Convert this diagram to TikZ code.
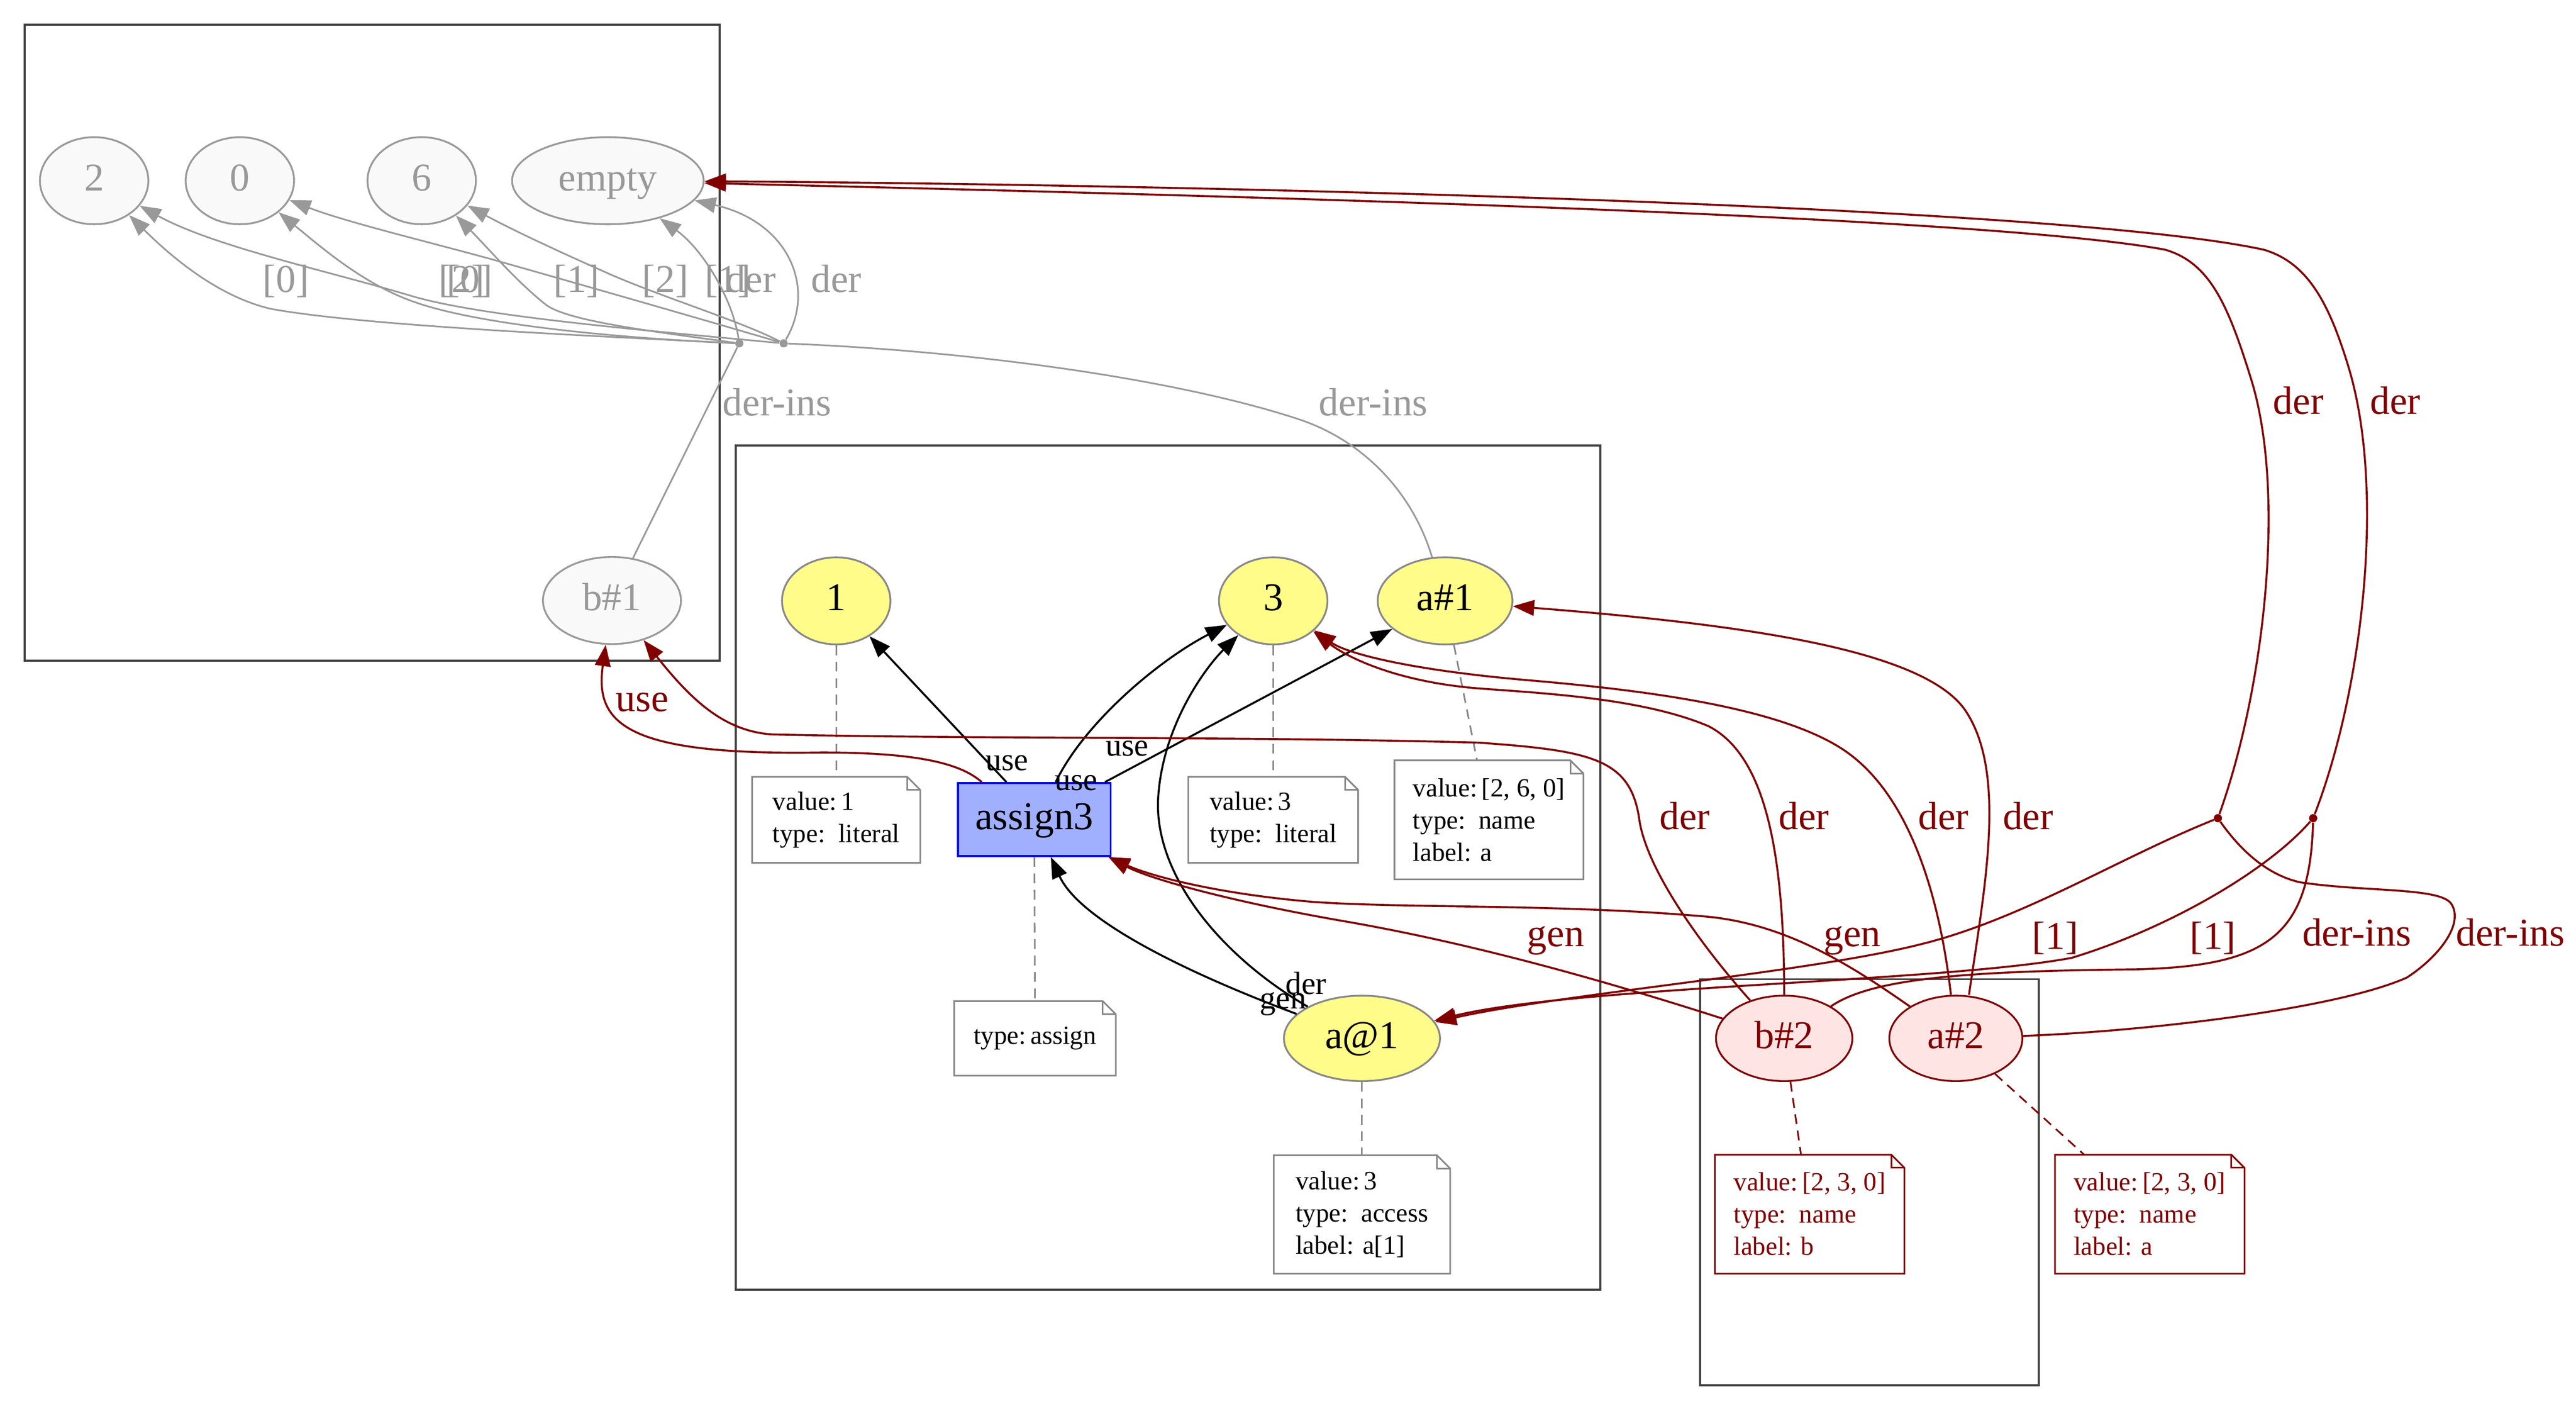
\documentclass[tikz,border=0pt]{standalone}
\usepackage{fontspec}
\setmainfont{Liberation Serif}
\usetikzlibrary{arrows.meta,shapes.geometric}
\definecolor{gline}{HTML}{999999}
\definecolor{gfill}{HTML}{F9F9F9}
\definecolor{yfill}{HTML}{FFFC8A}
\definecolor{nline}{HTML}{888888}
\definecolor{bfill}{HTML}{A0B0FF}
\definecolor{bline}{HTML}{0000FF}
\definecolor{dred}{HTML}{800000}
\definecolor{pfill}{HTML}{FFE4E4}
\definecolor{clline}{HTML}{444444}
\newcommand{\mynote}[7]{%
  \node[notebox, text=#5, minimum width=#3, minimum height=#4] (#1) at #2 {#7};
  \draw[draw=#6, line width=1pt] (#1.south west) -- (#1.north west) -- ([xshift=-8pt]#1.north east) -- ([yshift=-8pt]#1.north east) -- (#1.south east) -- cycle;
  \draw[draw=#6, line width=1pt] ([xshift=-8pt]#1.north east) |- ([yshift=-8pt]#1.north east);
}
\begin{document}
\begin{tikzpicture}[x=1pt,y=-1pt,
  lbig/.style={font=\fontsize{24}{28}\selectfont},
  lsmall/.style={font=\fontsize{19.5}{23}\selectfont},
  tip/.style={-{Triangle[length=13pt,width=9.5pt]}},
  gnode/.style={ellipse, draw=gline, fill=gfill, text=gline, line width=1.1pt, inner sep=0pt, lbig, text height=17pt, text depth=5pt, minimum width=66pt, minimum height=53pt},
  ynode/.style={ellipse, draw=nline, fill=yfill, text=black, line width=1.1pt, inner sep=0pt, lbig, text height=17pt, text depth=5pt, minimum width=66pt, minimum height=53pt},
  pnode/.style={ellipse, draw=dred, fill=pfill, text=dred, line width=1.1pt, inner sep=0pt, lbig, text height=17pt, text depth=5pt, minimum width=83pt, minimum height=52pt},
  anode/.style={rectangle, draw=bline, fill=bfill, line width=1.1pt, inner sep=0pt, lbig, text height=17pt, text depth=5pt, minimum width=93pt, minimum height=44.5pt},
  gdot/.style={circle, fill=gline, inner sep=0pt, minimum size=5pt},
  rdot/.style={circle, fill=dred, inner sep=0pt, minimum size=5pt},
  cluster/.style={draw=clline, line width=1.3pt},
  notebox/.style={rectangle, fill=white, inner sep=0pt, align=left, font=\fontsize{16}{19.6}\selectfont},
  gedge/.style={draw=gline, line width=1pt, tip},
  gline2/.style={draw=gline, line width=1pt},
  bedge/.style={draw=black, line width=1.2pt, tip},
  redge/.style={draw=dred, line width=1.2pt, tip},
  rline/.style={draw=dred, line width=1.2pt},
  ndash/.style={draw=nline, line width=1pt, dash pattern=on 6pt off 4pt},
  rdash/.style={draw=dred, line width=1pt, dash pattern=on 6pt off 4pt},
  glab/.style={text=gline, lbig, anchor=base, inner sep=0pt},
  rlab/.style={text=dred, lbig, anchor=base, inner sep=0pt},
  blab/.style={text=black, lsmall, anchor=base, inner sep=0pt}
]
\path[use as bounding box, fill=white] (0,0) rectangle (1568,858.8);

% clusters
\draw[cluster] (15,15) rectangle (438,402);
\draw[cluster] (448,271) rectangle (974,785);
\draw[cluster] (1035,596) rectangle (1241,843);

% gray nodes
\node[gnode] (n2) at (57.3,110) {2};
\node[gnode] (n0) at (146,110) {0};
\node[gnode] (n6) at (256.7,110) {6};
\node[gnode, minimum width=116.6pt] (nempty) at (370,110) {empty};
\node[gnode, minimum width=84pt] (b1) at (372.5,365.5) {b\#1};
\node[gdot] (j1) at (450,209) {};
\node[gdot] (j2) at (477,209) {};

% middle nodes
\node[ynode] (one) at (509,365.7) {1};
\node[ynode] (three) at (775,365.7) {3};
\node[ynode, minimum width=82pt] (a1) at (879.6,365.7) {a\#1};
\node[anode] (asg) at (629.6,498.8) {assign3};
\node[ynode, minimum width=95pt, minimum height=52pt] (aat1) at (829,632) {a@1};

% right nodes
\node[pnode] (b2) at (1086,632) {b\#2};
\node[pnode, minimum width=81pt] (a2) at (1190.5,632) {a\#2};
\node[rdot] (r1) at (1350,498) {};
\node[rdot] (r2) at (1408,498) {};

% notes
\mynote{note1}{(509,499)}{102pt}{52pt}{black}{nline}{value:\,1\\type:\ \ literal}
\mynote{noteas}{(630,632)}{98pt}{45pt}{black}{nline}{type:\,assign}
\mynote{note3}{(775,499)}{103pt}{52pt}{black}{nline}{value:\,3\\type:\ \ literal}
\mynote{notea1}{(906.3,499)}{114.7pt}{72pt}{black}{nline}{value:\,[2, 6, 0]\\type:\ \ name\\label: a}
\mynote{noteaat1}{(829,739.2)}{107pt}{71.6pt}{black}{nline}{value:\,3\\type:\ \ access\\label: a[1]}
\mynote{noteb2}{(1101.5,739)}{115pt}{72pt}{dred}{dred}{value:\,[2, 3, 0]\\type:\ \ name\\label: b}
\mynote{notea2}{(1308.5,739)}{115pt}{72pt}{dred}{dred}{value:\,[2, 3, 0]\\type:\ \ name\\label: a}

% dashed note links
\draw[ndash] (one) -- (note1);
\draw[ndash] (asg) -- (noteas);
\draw[ndash] (three) -- (note3);
\draw[ndash] (a1) -- (notea1);
\draw[ndash] (aat1) -- (noteaat1);
\draw[rdash] (b2) -- (noteb2);
\draw[rdash] (a2) -- (notea2);

% gray edges
\draw[gedge] (j1) .. controls (350,204) and (220,198) .. (165,188) .. controls (130,180) and (100,152) .. (n2) node[glab, at={(174,178)}] (lg1) {[0]};
\draw[gedge] (j2) .. controls (380,200) and (290,192) .. (250,180) .. controls (200,165) and (130,150) .. (n2) node[glab, at={(286,178)}] (lg2) {[0]};
\draw[gedge] (j1) .. controls (380,206) and (290,198) .. (250,183) .. controls (220,172) and (195,150) .. (n0) node[glab, at={(281,178)}] (lg3) {[2]};
\draw[gedge] (j1) .. controls (400,202) and (348,196) .. (333,186) .. controls (315,172) and (298,152) .. (n6) node[glab, at={(351,178)}] (lg4) {[1]};
\draw[gedge] (j2) .. controls (440,198) and (360,175) .. (300,158) .. controls (260,147) and (210,135) .. (n0) node[glab, at={(405,178)}] (lg5) {[2]};
\draw[gedge] (j2) .. controls (450,195) and (400,180) .. (367,165) .. controls (340,153) and (312,140) .. (n6) node[glab, at={(443,178)}] (lg6) {[1]};
\draw[gedge] (j1) .. controls (446,182) and (428,152) .. (nempty) node[glab, at={(457,178)}] (lg7) {der};
\draw[gedge] (j2) .. controls (497,175) and (480,135) .. (nempty) node[glab, at={(509,178)}] (lg8) {der};
\draw[gline2] (b1) -- (j1) node[glab, at={(473,253)}] (lg9) {der-ins};
\draw[gline2] (a1) .. controls (860,300) and (830,268) .. (790,255) .. controls (720,232) and (600,214) .. (j2) node[glab, at={(836,253)}] (lg10) {der-ins};

% black edges
\draw[bedge] ([xshift=-17pt]asg.north) -- (one) node[blab, at={(613,469)}] (lb1) {use};
\draw[bedge] ([xshift=13pt]asg.north) .. controls (660,440) and (705,402) .. (three) node[blab, at={(655,481)}] (lb2) {use};
\draw[bedge] ([xshift=43pt]asg.north) -- (a1) node[blab, at={(686,460)}] (lb3) {use};
\draw[bedge] (aat1) .. controls (730,595) and (658,562) .. ([xshift=10pt]asg.south) node[blab, at={(781,614)}] (lb4) {gen};
\draw[bedge] (aat1) .. controls (740,580) and (702,530) .. (705,485) .. controls (708,440) and (735,405) .. (three) node[blab, at={(795,605)}] (lb5) {der};

% red edges
\draw[redge] ([xshift=-32pt]asg.north) .. controls (585,465) and (560,458) .. (500,458) .. controls (380,460) and (362,440) .. (b1) node[rlab, at={(391,433)}] (lr1) {use};
\draw[redge] (b2) .. controls (1035,575) and (1003,530) .. (998,500) .. controls (993,462) and (970,457) .. (900,452) .. controls (750,448) and (600,450) .. (470,447) .. controls (440,445) and (420,425) .. (b1) node[rlab, at={(1025.5,505)}] (lr2) {der};
\draw[redge] (b2.north) .. controls (1086,520) and (1075,460) .. (1040,442) .. controls (1000,425) and (940,422) .. (900,419) .. controls (850,415) and (820,400) .. (three) node[rlab, at={(1098,505)}] (lr3) {der};
\draw[redge] ([xshift=-3pt]a2.north) .. controls (1180,540) and (1160,480) .. (1120,455) .. controls (1080,430) and (1000,420) .. (930,414) .. controls (860,408) and (820,398) .. (three) node[rlab, at={(1183,505)}] (lr4) {der};
\draw[redge] ([xshift=8pt]a2.north) .. controls (1208,540) and (1222,470) .. (1196,432) .. controls (1170,395) and (1060,380) .. (a1) node[rlab, at={(1234.5,505)}] (lr5) {der};
\draw[redge] (b2) .. controls (980,598) and (900,575) .. (820,561) .. controls (750,549) and (700,535) .. ([xshift=-2pt]asg.south east) node[rlab, at={(947,576)}] (lr6) {gen};
\draw[redge] (a2) .. controls (1130,590) and (1090,563) .. (1040,558) .. controls (950,550) and (860,553) .. (800,549) .. controls (740,544) and (700,533) .. ([xshift=-2pt]asg.south east) node[rlab, at={(1127.5,576)}] (lr7) {gen};
\draw[redge] (r1) .. controls (1290,522) and (1230,560) .. (1168,575) .. controls (1100,592) and (950,605) .. (aat1) node[rlab, at={(1251,577.6)}] (lr8) {[1]};
\draw[redge] (r2) .. controls (1380,530) and (1320,565) .. (1261,583) .. controls (1180,598) and (960,600) .. (aat1) node[rlab, at={(1347,577.6)}] (lr9) {[1]};
\draw[rline] (b2) .. controls (1140,595) and (1200,591) .. (1300,590) .. controls (1380,588) and (1406,570) .. (r2) node[rlab, at={(1434.5,575.6)}] (lr10) {der-ins};
\draw[rline] (a2) .. controls (1300,628) and (1420,615) .. (1465,595) .. controls (1485,582) and (1500,562) .. (1492,550) .. controls (1485,540) and (1440,543) .. (1400,537) .. controls (1378,532) and (1362,515) .. (r1) node[rlab, at={(1528,575.6)}] (lr11) {der-ins};
\draw[redge] (r1) .. controls (1378,420) and (1392,300) .. (1370,230) .. controls (1356,185) and (1345,160) .. (1318,152) .. controls (1200,130) and (700,118) .. (nempty) node[rlab, at={(1399,252)}] (lr12) {der};
\draw[redge] (r2) .. controls (1438,420) and (1452,300) .. (1430,225) .. controls (1418,185) and (1405,160) .. (1378,152) .. controls (1250,124) and (700,112) .. (nempty) node[rlab, at={(1458,252)}] (lr13) {der};
\end{tikzpicture}
\end{document}
